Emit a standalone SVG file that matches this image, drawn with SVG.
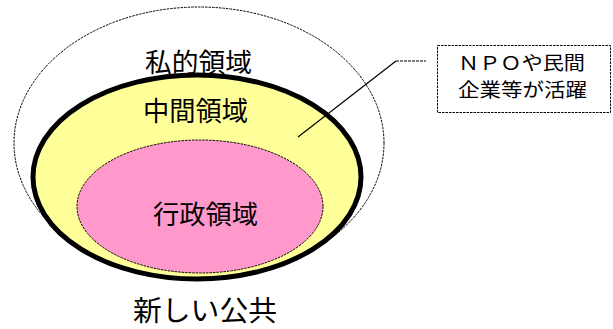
<svg xmlns="http://www.w3.org/2000/svg" width="613" height="329" viewBox="0 0 613 329">
<style>
.t{font-family:"Noto Sans CJK JP","Noto Sans",sans-serif;fill:#000;text-anchor:start}
.dash{fill:none;stroke:#000;stroke-width:1.2;stroke-dasharray:3,1}
</style>
<rect width="613" height="329" fill="#fff"/>
<g id="private">
<ellipse cx="199" cy="143" rx="185" ry="136" fill="#fff" stroke="#000" stroke-width="1" stroke-dasharray="2.5,1"/>
<text class="t" x="145" y="72" font-size="26" textLength="107" lengthAdjust="spacingAndGlyphs">私的領域</text>
</g>
<g id="middle">
<ellipse cx="197" cy="177" rx="164" ry="102" fill="#FFFF99" stroke="#000" stroke-width="5"/>
<text class="t" x="143" y="121" font-size="27" textLength="105" lengthAdjust="spacingAndGlyphs">中間領域</text>
</g>
<g id="admin">
<ellipse cx="200" cy="206.5" rx="123" ry="66.5" fill="#FF99CC" stroke="#000" stroke-width="1" stroke-dasharray="2.5,1"/>
<text class="t" x="153" y="224" font-size="26" textLength="105" lengthAdjust="spacingAndGlyphs">行政領域</text>
</g>
<g id="connectors">
<polyline fill="none" stroke="#000" stroke-width="1.2" points="298,137 396,61"/>
<polyline class="dash" points="396,61 426,61"/>
</g>
<g id="note">
<rect x="437.5" y="45.5" width="173" height="67" fill="#fff" stroke="#000" stroke-width="1" stroke-dasharray="2.5,1"/>
<text class="t" x="458" y="70" font-size="19" textLength="127" lengthAdjust="spacingAndGlyphs">ＮＰＯや民間</text>
<text class="t" x="458" y="97" font-size="19" textLength="129" lengthAdjust="spacingAndGlyphs">企業等が活躍</text>
</g>
<g id="title">
<text class="t" x="133" y="321" font-size="28" textLength="144" lengthAdjust="spacingAndGlyphs">新しい公共</text>
</g>
</svg>
